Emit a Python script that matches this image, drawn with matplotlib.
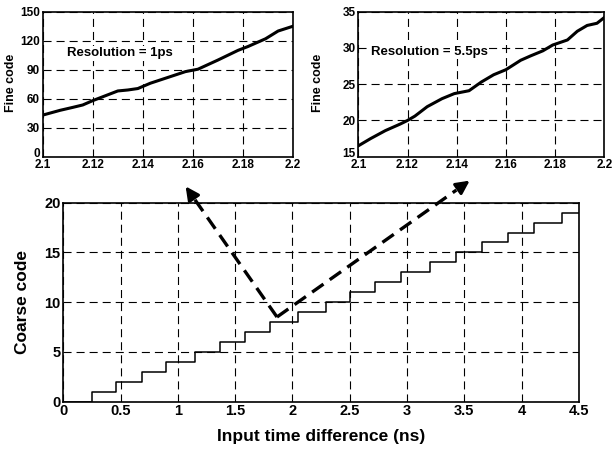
import numpy as np
import matplotlib
matplotlib.use("Agg")
import matplotlib.pyplot as plt
import matplotlib.transforms as mtransforms
from matplotlib.lines import Line2D
from matplotlib.patches import FancyArrowPatch

plt.rcParams['font.family'] = ['Liberation Sans', 'DejaVu Sans']
plt.rcParams['font.weight'] = 'bold'
plt.rcParams['lines.scale_dashes'] = False

# coarse code staircase: time where each code step happens (ns)
step_x = [0, 0.25, 0.46, 0.685, 0.895, 1.15, 1.37, 1.59, 1.80, 2.045, 2.29,
          2.50, 2.72, 2.95, 3.20, 3.43, 3.65, 3.88, 4.11, 4.35, 4.5]
step_code = [0, 1, 2, 3, 4, 5, 6, 7, 8, 9, 10,
             11, 12, 13, 14, 15, 16, 17, 18, 19, 19]

# fine code, 1ps resolution
fine1_x = [2.100, 2.107, 2.112, 2.116, 2.120, 2.125, 2.130, 2.134, 2.138, 2.143,
           2.150, 2.157, 2.162, 2.170, 2.178, 2.182, 2.189, 2.194, 2.200]
fine1_y = [43, 48, 51, 53.5, 58, 63, 68, 69, 70.5, 76,
           82, 88, 90.5, 100, 110, 114, 122, 130, 135]

# fine code, 5.5ps resolution
fine2_x = [2.100, 2.105, 2.111, 2.117, 2.120, 2.123, 2.128, 2.134, 2.139, 2.145, 2.150,
           2.155, 2.160, 2.166, 2.170, 2.175, 2.179, 2.185, 2.189, 2.193, 2.197, 2.200]
fine2_y = [16.5, 17.5, 18.6, 19.5, 20.0, 20.6, 21.9, 23.0, 23.7, 24.1, 25.3,
           26.3, 27.0, 28.3, 28.9, 29.6, 30.4, 31.1, 32.3, 33.1, 33.4, 34.2]

main_xticks = [0, 0.5, 1, 1.5, 2, 2.5, 3, 3.5, 4, 4.5]
main_xlabels = ["0", "0.5", "1", "1.5", "2", "2.5", "3", "3.5", "4", "4.5"]
main_yticks = [0, 5, 10, 15, 20]
fine_xticks = [2.1, 2.12, 2.14, 2.16, 2.18, 2.2]
fine_xlabels = ["2.1", "2.12", "2.14", "2.16", "2.18", "2.2"]
fine1_yticks = [0, 30, 60, 90, 120, 150]
fine2_yticks = [15, 20, 25, 30, 35]

grid_ls = (0, (5.8, 3.6))


def style_ax(ax, fs):
    ax.grid(True, color='black', linestyle=grid_ls, linewidth=0.8)
    ax.set_axisbelow(True)
    ax.tick_params(length=0, labelsize=fs, pad=2)
    for s in ax.spines.values():
        s.set_linewidth(1.2)
    for lab in ax.get_xticklabels() + ax.get_yticklabels():
        lab.set_fontweight('bold')


def lift_bottom_label(ax):
    # keep the lowest y tick label clear of the first x tick label
    lab = ax.get_yticklabels()[0]
    lab.set_transform(lab.get_transform() +
                      mtransforms.ScaledTranslation(0, 4 / 100, fig.dpi_scale_trans))


fig = plt.figure(figsize=(6.12, 4.49), dpi=100)

# main coarse code plot
ax = fig.add_axes([0.1034, 0.1053, 0.8426, 0.4433])
ax.step(step_x, step_code, where='post', color='black', lw=1.1)
ax.set_xlim(0, 4.5)
ax.set_ylim(0, 20)
ax.set_xticks(main_xticks)
ax.set_xticklabels(main_xlabels)
ax.set_yticks(main_yticks)
style_ax(ax, 10.5)
ax.set_xlabel('Input time difference (ns)', fontsize=12.5, fontweight='bold')
ax.set_ylabel('Coarse code', fontsize=12.5, fontweight='bold')
ax.xaxis.set_label_coords(0.5, -0.137)
ax.yaxis.set_label_coords(-0.0646, 0.5)

# inset 1ps
ax1 = fig.add_axes([0.0697, 0.651, 0.4093, 0.323])
ax1.plot(fine1_x, fine1_y, color='black', lw=2.2)
ax1.set_xlim(2.1, 2.2)
ax1.set_ylim(0, 150)
ax1.set_xticks(fine_xticks)
ax1.set_xticklabels(fine_xlabels)
ax1.set_yticks(fine1_yticks)
style_ax(ax1, 8.5)
lift_bottom_label(ax1)
ax1.set_ylabel('Fine code', fontsize=9, fontweight='bold')
ax1.yaxis.set_label_coords(-0.103, 0.51)
ax1.text(2.1096, 107, 'Resolution = 1ps', fontsize=9.5, fontweight='bold',
         ha='left', va='center', bbox=dict(facecolor='white', edgecolor='none', pad=1))

# inset 5.5ps
ax2 = fig.add_axes([0.5855, 0.651, 0.4020, 0.323])
ax2.plot(fine2_x, fine2_y, color='black', lw=2.2)
ax2.set_xlim(2.1, 2.2)
ax2.set_ylim(15, 35)
ax2.set_xticks(fine_xticks)
ax2.set_xticklabels(fine_xlabels)
ax2.set_yticks(fine2_yticks)
style_ax(ax2, 8.5)
lift_bottom_label(ax2)
ax2.set_ylabel('Fine code', fontsize=9, fontweight='bold')
ax2.yaxis.set_label_coords(-0.139, 0.51)
ax2.text(2.1051, 29.5, 'Resolution = 5.5ps', fontsize=9.5, fontweight='bold',
         ha='left', va='center', bbox=dict(facecolor='white', edgecolor='none', pad=1))

# dashed arrows from the staircase up to the insets
vertex = (0.4526, 0.294)
tips = [(0.3007, 0.590), (0.7712, 0.6013)]
for tip in tips:
    dx, dy = tip[0] - vertex[0], tip[1] - vertex[1]
    base = (tip[0] - 0.08 * dx, tip[1] - 0.08 * dy)
    fig.add_artist(Line2D([vertex[0], base[0]], [vertex[1], base[1]],
                          transform=fig.transFigure, color='black', lw=2.4,
                          linestyle=(0, (10, 5.5))))
    fig.add_artist(FancyArrowPatch(
        base, tip, transform=fig.transFigure, arrowstyle='-|>',
        mutation_scale=20, color='black', lw=2.2))

fig.savefig('out.png', dpi=100)
